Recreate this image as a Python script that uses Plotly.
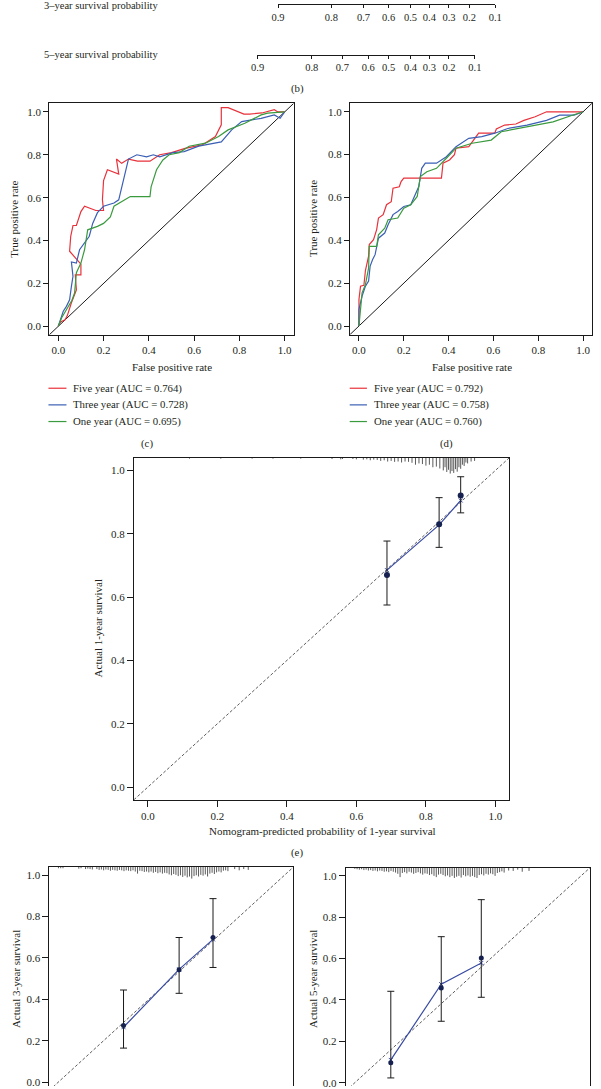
import plotly.graph_objects as go

W, H = 601, 1089
FONT = "Liberation Serif"
TXT = "#231f20"

# ---------------- data ----------------
# (b) nomogram survival-probability scales (positions in total points)
nomo_labels = ["0.9", "0.8", "0.7", "0.6", "0.5", "0.4", "0.3", "0.2", "0.1"]
nomo_3yr_points = [97, 165, 206, 238, 266, 290, 315, 341, 374]
nomo_5yr_points = [71, 140, 179, 212, 238, 266, 290, 315, 348]

# ROC legend
roc_labels = ["Five year", "Three year", "One year"]
auc_c = [0.764, 0.728, 0.695]
auc_d = [0.792, 0.758, 0.760]
roc_colors = ["#e8313a", "#3b5fb5", "#3a9a3e"]

# (c) ROC curves (false positive rate, true positive rate)
c5_fpr = [0, 0.01, 0.03, 0.04, 0.058, 0.08, 0.075, 0.1, 0.1, 0.05, 0.055, 0.065, 0.08, 0.1, 0.116, 0.166, 0.2,
          0.195, 0.2, 0.217, 0.267, 0.257, 0.28, 0.31, 0.35, 0.405, 0.448, 0.5, 0.56, 0.636, 0.694, 0.72, 0.72,
          0.75, 0.82, 0.845, 0.9, 0.954, 0.97, 1.0]
c5_tpr = [0, 0.02, 0.03, 0.05, 0.11, 0.17, 0.24, 0.24, 0.29, 0.35, 0.42, 0.47, 0.47, 0.535, 0.56, 0.54, 0.54,
          0.59, 0.68, 0.73, 0.71, 0.78, 0.76, 0.78, 0.77, 0.77, 0.8, 0.81, 0.83, 0.846, 0.885, 0.94, 1.02,
          1.02, 0.99, 0.99, 0.995, 1.01, 1.0, 1.0]
c3_fpr = [0, 0.015, 0.022, 0.036, 0.05, 0.058, 0.065, 0.058, 0.08, 0.094, 0.116, 0.137, 0.152, 0.173, 0.2,
          0.246, 0.267, 0.28, 0.296, 0.31, 0.347, 0.39, 0.42, 0.448, 0.506, 0.556, 0.62, 0.694, 0.72, 0.766,
          0.81, 0.896, 0.954, 0.98, 1.0]
c3_tpr = [0, 0.05, 0.07, 0.093, 0.124, 0.186, 0.233, 0.3, 0.295, 0.357, 0.39, 0.42, 0.48, 0.53, 0.56,
          0.575, 0.59, 0.65, 0.73, 0.78, 0.8, 0.79, 0.8, 0.79, 0.81, 0.815, 0.84, 0.854, 0.86, 0.916,
          0.955, 0.97, 0.986, 0.97, 1.0]
c1_fpr = [0, 0.015, 0.043, 0.06, 0.072, 0.08, 0.1, 0.116, 0.13, 0.173, 0.2, 0.23, 0.246, 0.29, 0.318,
          0.405, 0.41, 0.434, 0.462, 0.49, 0.535, 0.578, 0.65, 0.708, 0.75, 0.824, 0.896, 0.925, 1.0]
c1_tpr = [0, 0.04, 0.09, 0.12, 0.155, 0.25, 0.295, 0.357, 0.45, 0.466, 0.48, 0.51, 0.56, 0.59, 0.605,
          0.605, 0.65, 0.73, 0.776, 0.8, 0.81, 0.84, 0.854, 0.885, 0.916, 0.947, 0.986, 0.994, 1.0]

# (d) ROC curves
d5_fpr = [0, 0, 0.007, 0.022, 0.029, 0.043, 0.046, 0.065, 0.079, 0.087, 0.108, 0.123, 0.144, 0.152, 0.18,
          0.188, 0.2, 0.245, 0.317, 0.368, 0.375, 0.404, 0.426, 0.433, 0.49, 0.534, 0.606, 0.613, 0.65, 0.7,
          0.736, 0.786, 0.837, 1.0]
d5_tpr = [0, 0.124, 0.186, 0.19, 0.26, 0.326, 0.38, 0.403, 0.45, 0.504, 0.52, 0.566, 0.58, 0.643, 0.65,
          0.674, 0.69, 0.69, 0.69, 0.69, 0.76, 0.775, 0.8, 0.83, 0.837, 0.9, 0.9, 0.92, 0.938, 0.943,
          0.96, 0.977, 1.0, 1.0]
d3_fpr = [0, 0, 0.014, 0.029, 0.043, 0.05, 0.061, 0.072, 0.087, 0.115, 0.13, 0.152, 0.173, 0.2, 0.231,
          0.245, 0.267, 0.28, 0.296, 0.346, 0.39, 0.433, 0.49, 0.548, 0.606, 0.664, 0.75, 0.837, 0.895,
          0.96, 1.0]
d3_tpr = [0, 0.078, 0.14, 0.186, 0.21, 0.28, 0.31, 0.333, 0.41, 0.434, 0.473, 0.52, 0.535, 0.558, 0.566,
          0.597, 0.651, 0.736, 0.76, 0.76, 0.79, 0.837, 0.876, 0.884, 0.9, 0.922, 0.938, 0.96, 0.984,
          0.984, 1.0]
d1_fpr = [0, 0.007, 0.014, 0.029, 0.043, 0.046, 0.079, 0.087, 0.115, 0.13, 0.173, 0.2, 0.231, 0.26, 0.274,
          0.303, 0.346, 0.39, 0.433, 0.505, 0.59, 0.635, 0.75, 0.866, 0.952, 1.0]
d1_tpr = [0, 0.093, 0.155, 0.194, 0.27, 0.372, 0.372, 0.426, 0.457, 0.496, 0.504, 0.55, 0.566, 0.605, 0.698,
          0.72, 0.736, 0.783, 0.83, 0.853, 0.868, 0.907, 0.93, 0.953, 0.984, 1.0]

# (e) 1-year calibration
cal1_pred = [0.688, 0.838, 0.900]
cal1_obs = [0.670, 0.830, 0.921]
cal1_lo = [0.575, 0.757, 0.866]
cal1_hi = [0.777, 0.914, 0.980]
cal1_corr = [0.685, 0.828, 0.905]
rug1_x = [0.12, 0.21, 0.30, 0.36, 0.44, 0.53, 0.555, 0.56, 0.59, 0.60, 0.62, 0.63, 0.64, 0.65, 0.66, 0.67,
          0.68, 0.69, 0.70, 0.71, 0.72, 0.73, 0.74, 0.75, 0.76, 0.77, 0.78, 0.79, 0.80, 0.81, 0.82, 0.83,
          0.84, 0.85, 0.855, 0.86, 0.865, 0.87, 0.875, 0.88, 0.885, 0.89, 0.895, 0.90, 0.905, 0.91, 0.915,
          0.92, 0.93, 0.94]
rug1_h = [0.003, 0.003, 0.003, 0.003, 0.003, 0.004, 0.005, 0.004, 0.004, 0.005, 0.006, 0.005, 0.008, 0.006,
          0.007, 0.010, 0.008, 0.012, 0.010, 0.013, 0.012, 0.015, 0.012, 0.013, 0.016, 0.022, 0.018, 0.020,
          0.025, 0.022, 0.030, 0.028, 0.034, 0.040, 0.030, 0.045, 0.038, 0.050, 0.042, 0.048, 0.036, 0.044,
          0.030, 0.035, 0.022, 0.026, 0.015, 0.018, 0.012, 0.010]

# (f) 3-year calibration
cal3_pred = [0.288, 0.534, 0.684]
cal3_obs = [0.273, 0.543, 0.699]
cal3_lo = [0.164, 0.429, 0.554]
cal3_hi = [0.445, 0.699, 0.887]
cal3_corr = [0.265, 0.545, 0.690]
rug3_x = [0.00, 0.01, 0.02, 0.09, 0.10, 0.12, 0.13, 0.14, 0.15, 0.17, 0.18, 0.19, 0.20, 0.21, 0.22, 0.23,
          0.24, 0.25, 0.26, 0.27, 0.28, 0.29, 0.30, 0.31, 0.32, 0.33, 0.34, 0.35, 0.36, 0.37, 0.38, 0.39,
          0.40, 0.41, 0.42, 0.43, 0.44, 0.45, 0.46, 0.47, 0.48, 0.49, 0.50, 0.51, 0.52, 0.53, 0.54, 0.55,
          0.56, 0.57, 0.58, 0.59, 0.60, 0.61, 0.62, 0.63, 0.64, 0.65, 0.66, 0.67, 0.68, 0.69, 0.70, 0.71,
          0.72, 0.73, 0.74, 0.75, 0.78, 0.80, 0.82, 0.84]
rug3_h = [0.006, 0.006, 0.006, 0.008, 0.006, 0.010, 0.008, 0.010, 0.012, 0.010, 0.014, 0.012, 0.016, 0.012,
          0.014, 0.018, 0.014, 0.016, 0.018, 0.014, 0.016, 0.020, 0.016, 0.018, 0.020, 0.016, 0.022, 0.032,
          0.018, 0.020, 0.024, 0.022, 0.026, 0.022, 0.028, 0.024, 0.030, 0.026, 0.032, 0.028, 0.030, 0.036,
          0.040, 0.034, 0.038, 0.044, 0.040, 0.048, 0.042, 0.050, 0.046, 0.056, 0.044, 0.040, 0.046, 0.038,
          0.042, 0.036, 0.046, 0.032, 0.028, 0.034, 0.026, 0.022, 0.026, 0.018, 0.016, 0.020, 0.010, 0.016,
          0.010, 0.014]

# (g) 5-year calibration
cal5_pred = [0.159, 0.382, 0.559]
cal5_obs = [0.096, 0.458, 0.603]
cal5_lo = [0.023, 0.297, 0.413]
cal5_hi = [0.442, 0.706, 0.885]
cal5_corr = [0.110, 0.476, 0.579]
rug5_x = [0.00, 0.01, 0.02, 0.03, 0.04, 0.05, 0.06, 0.07, 0.08, 0.09, 0.10, 0.11, 0.12, 0.13, 0.14, 0.15,
          0.16, 0.17, 0.18, 0.19, 0.20, 0.21, 0.22, 0.23, 0.24, 0.25, 0.26, 0.27, 0.28, 0.29, 0.30, 0.31,
          0.32, 0.33, 0.34, 0.35, 0.36, 0.37, 0.38, 0.39, 0.40, 0.41, 0.42, 0.43, 0.44, 0.45, 0.46, 0.47,
          0.48, 0.49, 0.50, 0.51, 0.52, 0.53, 0.54, 0.55, 0.56, 0.57, 0.58, 0.59, 0.60, 0.61, 0.62, 0.63,
          0.64, 0.65, 0.66, 0.68, 0.70, 0.72, 0.74, 0.77]
rug5_h = [0.006, 0.008, 0.010, 0.008, 0.012, 0.010, 0.014, 0.012, 0.016, 0.014, 0.018, 0.014, 0.016, 0.020,
          0.018, 0.022, 0.016, 0.020, 0.024, 0.030, 0.046, 0.026, 0.022, 0.028, 0.020, 0.024, 0.030, 0.026,
          0.022, 0.028, 0.034, 0.028, 0.030, 0.036, 0.032, 0.040, 0.046, 0.034, 0.030, 0.036, 0.042, 0.038,
          0.046, 0.040, 0.050, 0.044, 0.040, 0.048, 0.036, 0.042, 0.038, 0.044, 0.040, 0.046, 0.050, 0.036,
          0.032, 0.038, 0.030, 0.034, 0.028, 0.032, 0.040, 0.026, 0.022, 0.018, 0.024, 0.014, 0.016, 0.010,
          0.020, 0.016]

# ---------------- layout helpers ----------------
def px(p):
    return p / W


def py(p):
    return 1 - p / H


fig = go.Figure()

tickfont = dict(family=FONT, size=11, color=TXT)
unit_ticks = [0, 0.2, 0.4, 0.6, 0.8, 1.0]
unit_text = ["%.1f" % v for v in unit_ticks]

# ROC panels
roc_sets = [
    ("x", "y", [(c5_fpr, c5_tpr), (c3_fpr, c3_tpr), (c1_fpr, c1_tpr)]),
    ("x2", "y2", [(d5_fpr, d5_tpr), (d3_fpr, d3_tpr), (d1_fpr, d1_tpr)]),
]
for xa, ya, curves in roc_sets:
    fig.add_trace(go.Scatter(x=[-0.04, 1.04], y=[-0.04, 1.04], mode="lines",
                             line=dict(color="#1a1a1a", width=1), xaxis=xa, yaxis=ya,
                             showlegend=False, hoverinfo="skip"))
    for k, (fx, fy) in enumerate(curves):
        fig.add_trace(go.Scatter(x=fx, y=fy, mode="lines", line=dict(color=roc_colors[k], width=1.2),
                                 xaxis=xa, yaxis=ya, showlegend=False, name=roc_labels[k]))

# calibration panels
cal_sets = [
    ("x3", "y3", cal1_pred, cal1_obs, cal1_lo, cal1_hi, cal1_corr, rug1_x, rug1_h, 6),
    ("x4", "y4", cal3_pred, cal3_obs, cal3_lo, cal3_hi, cal3_corr, rug3_x, rug3_h, 5),
    ("x5", "y5", cal5_pred, cal5_obs, cal5_lo, cal5_hi, cal5_corr, rug5_x, rug5_h, 5),
]
for xa, ya, pred, obs, lo, hi, corr, rx, rh, msz in cal_sets:
    fig.add_trace(go.Scatter(x=[-0.04, 1.04], y=[-0.04, 1.04], mode="lines",
                             line=dict(color="#333333", width=0.8, dash="3px,2px"),
                             xaxis=xa, yaxis=ya, showlegend=False, hoverinfo="skip"))
    # rug of predicted-risk distribution hanging from top
    rxs, rys = [], []
    for xv, hv in zip(rx, rh):
        rxs += [xv, xv, None]
        rys += [1.04, 1.04 - hv, None]
    fig.add_trace(go.Scatter(x=rxs, y=rys, mode="lines", line=dict(color="#5a5a5a", width=1),
                             xaxis=xa, yaxis=ya, showlegend=False, hoverinfo="skip"))
    # bias-corrected line
    fig.add_trace(go.Scatter(x=pred, y=corr, mode="lines+markers",
                             line=dict(color="#3a4ca3", width=1.2),
                             marker=dict(symbol="x-thin", size=4, line=dict(color="#3a4ca3", width=1)),
                             xaxis=xa, yaxis=ya, showlegend=False))
    # observed with CI
    fig.add_trace(go.Scatter(x=pred, y=obs, mode="markers",
                             marker=dict(color="#16214f", size=msz),
                             error_y=dict(type="data", symmetric=False,
                                          array=[h - o for h, o in zip(hi, obs)],
                                          arrayminus=[o - l for o, l in zip(obs, lo)],
                                          color="#1a1a1a", thickness=1, width=3.5),
                             xaxis=xa, yaxis=ya, showlegend=False))

# nomogram scales
PX0, PXPT = 200.0, 0.8
for xa, ya, pts in [("x6", "y6", nomo_3yr_points), ("x7", "y7", nomo_5yr_points)]:
    fig.add_trace(go.Scatter(x=pts, y=[0] * len(pts), mode="markers", marker=dict(size=1, opacity=0),
                             xaxis=xa, yaxis=ya, showlegend=False, hoverinfo="skip"))


def frame_axis(domain, rng, anchor, **kw):
    d = dict(domain=domain, range=rng, anchor=anchor, showgrid=False, zeroline=False,
             showline=True, mirror=True, linecolor="#1a1a1a", linewidth=1,
             ticks="outside", ticklen=5, tickwidth=1, tickcolor="#1a1a1a",
             tickvals=unit_ticks, ticktext=unit_text, tickfont=tickfont,
             ticklabeloverflow="allow")
    d.update(kw)
    return d


layout = dict(
    width=W, height=H, autosize=False,
    margin=dict(l=0, r=0, t=0, b=0),
    paper_bgcolor="white", plot_bgcolor="white",
    showlegend=False,
    font=dict(family=FONT, color=TXT),
)
# (c)
layout["xaxis"] = frame_axis([px(44.1), px(293.6)], [-0.04, 1.04], "y")
layout["yaxis"] = frame_axis([py(335.8), py(103.6)], [-0.04, 1.04], "x")
# (d)
layout["xaxis2"] = frame_axis([px(351), px(598)], [-0.04, 1.04], "y2")
layout["yaxis2"] = frame_axis([py(335.5), py(103.5)], [-0.04, 1.04], "x2")
# (e)
layout["xaxis3"] = frame_axis([px(130.5), px(513.6)], [-0.04, 1.04], "y3", ticklen=6)
layout["yaxis3"] = frame_axis([py(802), py(459)], [-0.04, 1.04], "x3", ticklen=6)
# (f)
layout["xaxis4"] = frame_axis([px(44.3), px(293.3)], [-0.04, 1.04], "y4", side="top", mirror=False,
                              ticks="", showticklabels=False)
layout["yaxis4"] = frame_axis([0, py(869.4)], [-0.0193, 1.04], "x4", ticklen=6)
# (g)
layout["xaxis5"] = frame_axis([px(346.7), px(596)], [-0.04, 1.04], "y5", side="top", mirror=False,
                              ticks="", showticklabels=False)
layout["yaxis5"] = frame_axis([0, py(870.0)], [-0.016, 1.04], "x5", ticklen=6)
# nomogram rows
for n, pts, yline in [(6, nomo_3yr_points, 4.5), (7, nomo_5yr_points, 55.0)]:
    lo_p, hi_p = min(pts) - 0.3, max(pts) + 0.3
    layout["xaxis%d" % n] = dict(domain=[px(PX0 + PXPT * lo_p), px(PX0 + PXPT * hi_p)], range=[lo_p, hi_p],
                                 anchor="y%d" % n, showgrid=False, zeroline=False, showline=True,
                                 linecolor="#1a1a1a", linewidth=1, ticks="outside", ticklen=3,
                                 tickwidth=1, tickcolor="#1a1a1a", tickvals=pts, ticktext=nomo_labels,
                                 tickfont=dict(family=FONT, size=10.5, color=TXT))
    layout["yaxis%d" % n] = dict(domain=[py(yline), py(yline) + 0.002], visible=False, anchor="x%d" % n,
                                 range=[0, 1])
fig.update_layout(**layout)

annotations = []


def ann(text, x, y, size=11, angle=0, xanchor="center"):
    annotations.append(dict(text=text, x=px(x), y=py(y), xref="paper", yref="paper", showarrow=False,
                            xanchor=xanchor, yanchor="middle", textangle=angle,
                            font=dict(family=FONT, size=size, color=TXT)))


ann("3\u2013year survival probability", 37, 6.0, size=10.5, xanchor="left")
ann("5\u2013year survival probability", 37, 55.0, size=10.5, xanchor="left")
ann("(b)", 297, 89, size=10.8)
ann("False positive rate", 169, 368.3)
ann("False positive rate", 475.8, 368.3)
ann("True positive rate", 8, 219.5, angle=-90)
ann("True positive rate", 313.3, 219.5, angle=-90)
ann("(c)", 144.3, 444.3, size=10.8)
ann("(d)", 449.3, 444.3, size=10.8)
ann("Actual 1-year survival", 94, 630, angle=-90)
ann("Nomogram-predicted probability of 1-year survival", 322.5, 833.3)
ann("(e)", 297, 855, size=10.8)
ann("Actual 3-year survival", 10.5, 981.5, angle=-90)
ann("Actual 5-year survival", 314, 982, angle=-90)

shapes = []
legend_rows = [389.3, 406.0, 422.7]
for (lx0, lx1, tx), aucs in [((43.3, 61.7, 66.7), auc_c), ((350.7, 368.3, 373.3), auc_d)]:
    for k in range(3):
        yy = legend_rows[k]
        shapes.append(dict(type="line", xref="paper", yref="paper", x0=px(lx0), x1=px(lx1),
                           y0=py(yy), y1=py(yy), line=dict(color=roc_colors[k], width=1.2)))
        ann("%s (AUC = %.3f)" % (roc_labels[k], aucs[k]), tx, yy, size=10.8, xanchor="left")

fig.update_layout(annotations=annotations, shapes=shapes)
fig.write_html("out.html", config={"displayModeBar": False},
               post_script="document.body.style.margin='0';document.body.style.padding='0';"
                           "document.body.style.overflow='hidden';"
                           "document.documentElement.style.overflow='hidden';")
